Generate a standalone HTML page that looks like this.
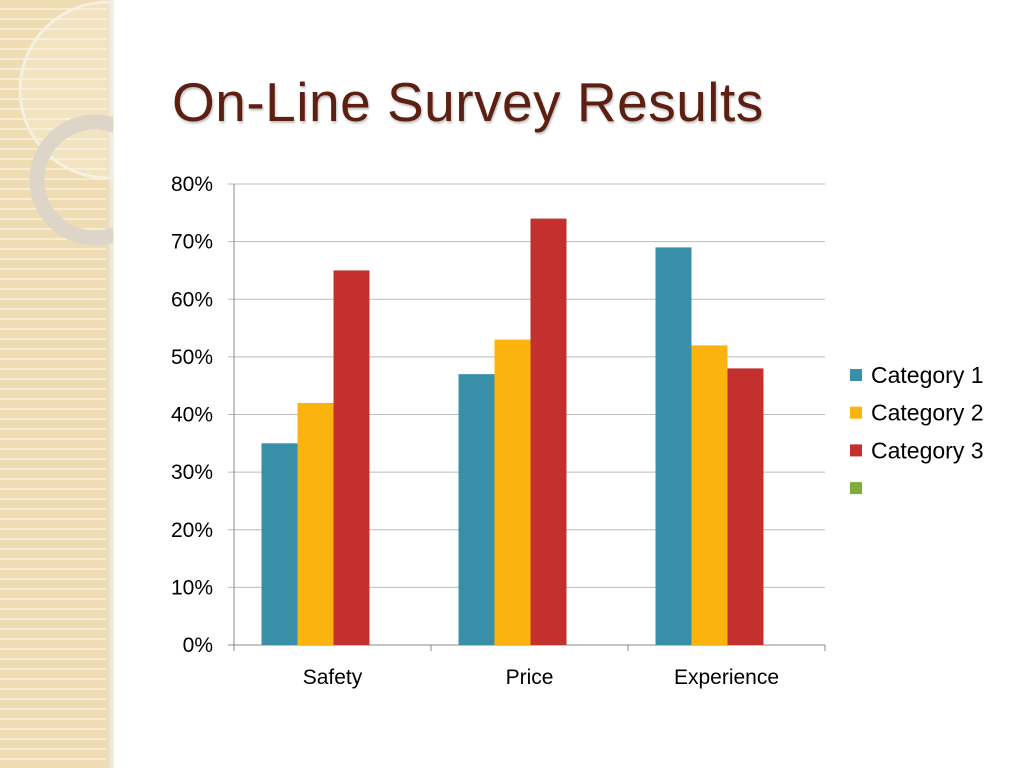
<!DOCTYPE html>
<html><head><meta charset="utf-8"><style>
body{margin:0;width:1024px;height:768px;overflow:hidden;background:#fff;font-family:"Liberation Sans",sans-serif;position:relative}
#strip{position:absolute;left:0;top:0;width:113px;height:768px;background:repeating-linear-gradient(#efdcb2 0 8px,#f7ecd2 8px 10px)}
#shade{position:absolute;left:106px;top:0;width:8px;height:768px;background:linear-gradient(90deg,#e8d8b8,#f4efe6)}
h1{position:absolute;left:172px;top:70px;margin:0;font-weight:normal;font-size:55px;letter-spacing:0.5px;color:#5c2012;text-shadow:1px 2px 2px rgba(0,0,0,.25)}
</style></head><body>
<div id="strip"></div>
<div id="shade"></div>
<svg width="1024" height="768" style="position:absolute;left:0;top:0">
<defs><clipPath id="cl"><rect x="0" y="0" width="113" height="768"/></clipPath></defs>
<g clip-path="url(#cl)">
<circle cx="108" cy="90" r="88" fill="rgba(255,255,255,0.2)" stroke="#f6f0e0" stroke-width="3"/>
<circle cx="95" cy="180" r="58" fill="none" stroke="#ddd6c8" stroke-width="15"/>
</g>
</svg>
<h1>On-Line Survey Results</h1>
<svg id="chart" width="1024" height="768" style="position:absolute;left:0;top:0"></svg>
<script>
const categories=["Safety","Price","Experience"];
const cat1=[35,47,69];
const cat2=[42,53,52];
const cat3=[65,74,48];
const seriesNames=["Category 1","Category 2","Category 3"];
const ticks=[0,10,20,30,40,50,60,70,80];
const colors=["#3a8fa8","#fbb40e","#c4302e"];
const svg=document.getElementById('chart');
const NS='http://www.w3.org/2000/svg';
const x0=234,x1=825,y0=645,y1=184,maxV=80;
const y=v=>y0-(v/maxV)*(y0-y1);
const bandW=(x1-x0)/categories.length;
const bw=36;
function mk(t,a){const e=document.createElementNS(NS,t);for(const k in a)e.setAttribute(k,a[k]);svg.appendChild(e);return e;}
ticks.forEach(t=>{
 const l=mk('line',{x1:228,x2:x1,y1:y(t),y2:y(t),stroke:t===0?'#888':'#bbb','stroke-width':1});
 
 
 const tx=mk('text',{x:213,y:y(t)+7,'text-anchor':'end','font-size':21,fill:'#000','font-family':'Liberation Sans,sans-serif'});
 tx.textContent=t+'%';
 
 
});
const ax=mk('line',{x1:x0,x2:x0,y1:y1,y2:y0+6,stroke:'#888'});


const series=[cat1,cat2,cat3];
categories.forEach((c,i)=>{
 const cx=x0+bandW*(i+0.5);
 const bx=cx-17;
 const tk=mk('line',{x1:x0+bandW*(i+1),x2:x0+bandW*(i+1),y1:y0,y2:y0+6,stroke:'#888'});
 
 
 series.forEach((s,j)=>{
  const r=mk('rect',{x:bx-1.5*bw+j*bw,y:y(s[i]),width:bw,height:y0-y(s[i]),fill:colors[j]});
  
  
 });
 const t=mk('text',{x:cx,y:684,'text-anchor':'middle','font-size':21,fill:'#000','font-family':'Liberation Sans,sans-serif'});
 t.textContent=c;
 
 
});
const lc=colors.concat(['#7fac3a']);
const ln=seriesNames.concat(['']);
lc.forEach((col,i)=>{
 const yy=375+i*37.7;
 const r=mk('rect',{x:850,y:yy-6,width:12,height:12,fill:col});
 
 
 const t=mk('text',{x:871,y:yy+8,'font-size':23,fill:'#000','font-family':'Liberation Sans,sans-serif'});
 t.textContent=ln[i];
 
 
});
</script>
</body></html>
